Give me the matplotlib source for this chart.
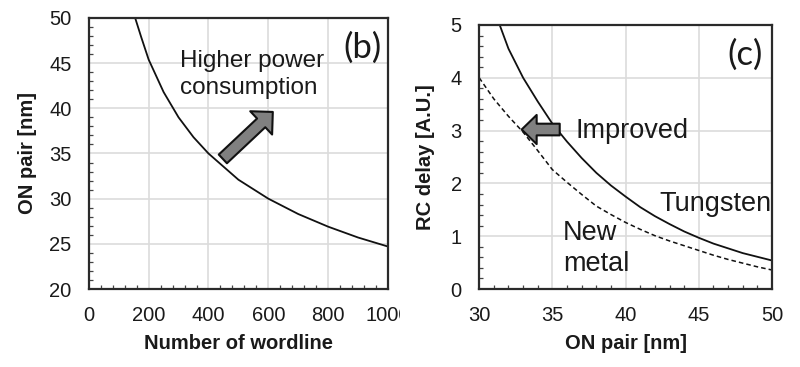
import matplotlib
matplotlib.use('Agg')
import matplotlib.pyplot as plt
from matplotlib.ticker import MultipleLocator
from matplotlib.transforms import Bbox, TransformedBbox

# (b) ON pair vs number of wordline
wordline = [155, 175, 200, 250, 300, 350, 400, 500, 600, 700, 800, 900, 1000]
on_pair_b = [50.0, 47.9, 45.4, 41.8, 39.0, 36.8, 35.0, 32.1, 30.0, 28.3, 26.9, 25.7, 24.7]

# (c) RC delay vs ON pair
on_pair_c = [31.4, 32, 33, 34, 35, 36, 37, 38, 39, 40, 41, 42, 43, 44, 45, 46, 47, 48, 49, 50]
tungsten = [5.0, 4.55, 4.0, 3.55, 3.13, 2.79, 2.48, 2.2, 1.96, 1.75, 1.55, 1.38, 1.23, 1.09, 0.97,
            0.86, 0.77, 0.68, 0.61, 0.54]
on_pair_nm = [30, 31, 32, 33, 34, 35, 36, 37, 38, 39, 40, 41, 42, 43, 44, 45, 46, 47, 48, 49, 50]
new_metal = [4.0, 3.6, 3.27, 2.97, 2.62, 2.26, 2.02, 1.79, 1.57, 1.41, 1.26, 1.13, 1.01, 0.91,
             0.82, 0.73, 0.64, 0.56, 0.49, 0.42, 0.36]

xticks_b = [0, 200, 400, 600, 800, 1000]
yticks_b = [20, 25, 30, 35, 40, 45, 50]
xticks_c = [30, 35, 40, 45, 50]
yticks_c = [0, 1, 2, 3, 4, 5]

plt.rcParams['font.family'] = ['Liberation Sans', 'DejaVu Sans']
TXT = '#1a1a1a'
GRID = '#dcdcdc'
SPINE = '#2a2a2a'

fig = plt.figure(figsize=(8, 3.67), dpi=100)
ax1 = fig.add_axes([0.111, 0.2125, 0.374, 0.7385])
ax2 = fig.add_axes([0.599, 0.2125, 0.366, 0.7195])


def style_axes(ax):
    ax.grid(True, which='major', color=GRID, lw=1.2)
    ax.set_axisbelow(True)
    for s in ax.spines.values():
        s.set_color(SPINE)
        s.set_linewidth(1.6)
    ax.tick_params(which='both', direction='in', top=False, right=False, color='#444444',
                   labelsize=14.5, labelcolor=TXT)
    ax.tick_params(which='major', length=0, pad=12.5)
    ax.tick_params(which='minor', length=3, width=0.9)


# ---- panel (b)
ax1.plot(wordline, on_pair_b, color='#111111', lw=1.3)
ax1.set_xlim(0, 1000)
ax1.set_ylim(20, 50)
ax1.set_xticks(xticks_b)
ax1.set_yticks(yticks_b)
ax1.xaxis.set_minor_locator(MultipleLocator(40))
ax1.yaxis.set_minor_locator(MultipleLocator(1))
style_axes(ax1)
ax1.set_xlabel('Number of wordline', fontsize=14.5, fontweight='bold', color=TXT, labelpad=6)
ax1.set_ylabel('ON pair [nm]', fontsize=14.5, fontweight='bold', color=TXT, labelpad=9)
ax1.text(0.304, 0.79, 'Higher power\nconsumption', transform=ax1.transAxes, fontsize=17.5,
         color=TXT, ha='left', va='center', linespacing=1.3)
ax1.text(0.98, 0.889, '(b)', transform=ax1.transAxes, fontsize=25, family='Lato',
         color=TXT, ha='right', va='center')
ax1.annotate('', xy=(615, 39.6), xytext=(448, 34.4),
             arrowprops=dict(arrowstyle='simple,head_length=11.5,head_width=23,tail_width=8.6',
                             mutation_scale=1, fc='#808080', ec='#111111', lw=1.5,
                             shrinkA=0, shrinkB=0))

# clip the tick labels to the left half, as in the cropped original
clip = TransformedBbox(Bbox([[0, 0], [0.5, 1]]), fig.transFigure)
for lab in ax1.get_xticklabels():
    lab.set_clip_box(clip)
    lab.set_clip_on(True)

# ---- panel (c)
ax2.plot(on_pair_c, tungsten, color='#111111', lw=1.3)
ax2.plot(on_pair_nm, new_metal, color='#111111', lw=1.1, ls=(0, (3, 2)))
ax2.set_xlim(30, 50)
ax2.set_ylim(0, 5)
ax2.set_xticks(xticks_c)
ax2.set_yticks(yticks_c)
ax2.xaxis.set_minor_locator(MultipleLocator(1))
ax2.yaxis.set_minor_locator(MultipleLocator(0.2))
style_axes(ax2)
ax2.set_xlabel('ON pair [nm]', fontsize=14.5, fontweight='bold', color=TXT, labelpad=6)
ax2.set_ylabel('RC delay [A.U.]', fontsize=14.5, fontweight='bold', color=TXT, labelpad=11)
ax2.text(36.55, 2.99, 'Improved', fontsize=19.5, color=TXT, ha='left', va='center')
ax2.text(49.95, 1.61, 'Tungsten', fontsize=19.5, color=TXT, ha='right', va='center')
ax2.text(35.73, 0.77, 'New\nmetal', fontsize=19.5, color=TXT, ha='left', va='center',
         linespacing=1.22)
ax2.text(0.969, 0.886, '(c)', transform=ax2.transAxes, fontsize=25, family='Lato',
         color=TXT, ha='right', va='center')
ax2.annotate('', xy=(32.9, 3.02), xytext=(35.5, 3.02),
             arrowprops=dict(arrowstyle='simple,head_length=10.8,head_width=21,tail_width=8.4',
                             mutation_scale=1, fc='#808080', ec='#111111', lw=1.5,
                             shrinkA=0, shrinkB=0))

fig.savefig('out.png', dpi=100)
